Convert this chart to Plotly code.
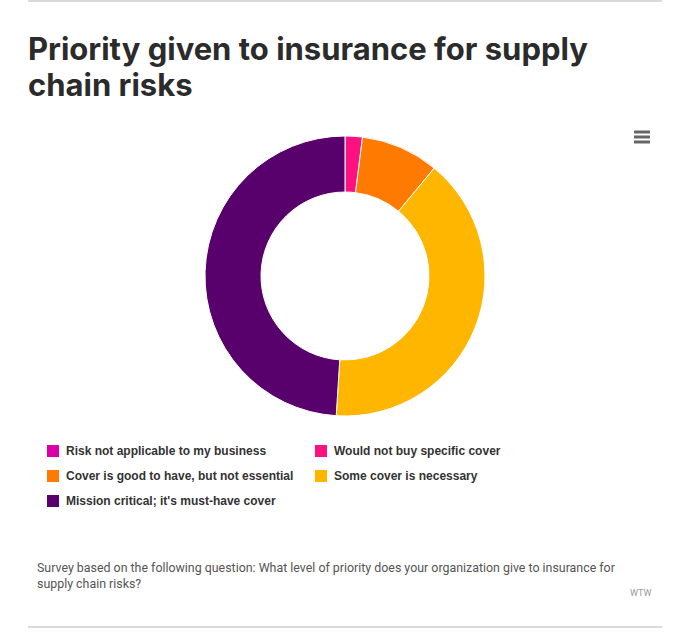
import plotly.graph_objects as go

W, H = 684, 641

labels = [
    "Risk not applicable to my business",
    "Would not buy specific cover",
    "Cover is good to have, but not essential",
    "Some cover is necessary",
    "Mission critical; it's must-have cover",
]
values = [0, 2, 9, 40, 49]
colors = ["#dc00a8", "#ff1080", "#ff7a00", "#ffb600", "#58006c"]

title_lines = ["Priority given to insurance for supply", "chain risks"]
caption_text = ("Survey based on the following question: What level of priority does your organization give to insurance for"
                "<br>supply chain risks?")
credit_text = "WTW"


def px(x):
    return x / W


def py(y):
    return 1 - y / H


fig = go.Figure()
fig.add_trace(go.Pie(
    labels=labels,
    values=values,
    hole=0.6,
    sort=False,
    direction="clockwise",
    rotation=0,
    textinfo="none",
    marker=dict(colors=colors, line=dict(color="#ffffff", width=1)),
    domain=dict(x=[px(205), px(485)], y=[py(416), py(136)]),
    showlegend=False,
    hoverinfo="label+percent",
))

shapes = []
annotations = []

# top and bottom rules
shapes.append(dict(type="line", xref="paper", yref="paper", x0=px(28), x1=px(662), y0=py(1), y1=py(1),
                   line=dict(color="#dcd9de", width=2)))
shapes.append(dict(type="line", xref="paper", yref="paper", x0=px(28), x1=px(662), y0=py(627), y1=py(627),
                   line=dict(color="#dcd9de", width=2)))

# menu icon
for yy in [132, 137, 142]:
    shapes.append(dict(type="line", xref="paper", yref="paper", x0=px(634), x1=px(650), y0=py(yy), y1=py(yy),
                       line=dict(color="#666666", width=3)))

# custom legend
for i, (lab, col) in enumerate(zip(labels, colors)):
    r, c = divmod(i, 2)
    x0 = 47 + c * 268
    y0 = 445 + r * 25
    shapes.append(dict(type="rect", xref="paper", yref="paper", x0=px(x0), x1=px(x0 + 12),
                       y0=py(y0 + 12), y1=py(y0), fillcolor=col, line=dict(width=0)))
    annotations.append(dict(text=lab, xref="paper", yref="paper", x=px(64 + c * 268), y=py(y0 + 6),
                            xanchor="left", yanchor="middle", showarrow=False,
                            font=dict(family="Liberation Sans", size=12, color="#333333", weight="bold")))

# title (two lines)
for j, line in enumerate(title_lines):
    annotations.append(dict(text=line, xref="paper", yref="paper", x=px(26), y=py(48 + j * 37),
                            xanchor="left", yanchor="middle", align="left", showarrow=False,
                            font=dict(family="Inter", size=31, color="#2b2b2b", weight="bold")))
# caption
annotations.append(dict(text=caption_text, xref="paper", yref="paper", x=px(35), y=py(558),
                        xanchor="left", yanchor="top", align="left", showarrow=False,
                        font=dict(family="Roboto", size=12.4, color="#555555")))
annotations.append(dict(text=credit_text, xref="paper", yref="paper", x=px(653), y=py(593),
                        xanchor="right", yanchor="middle", showarrow=False,
                        font=dict(family="Roboto", size=9, color="#999999")))

fig.update_layout(
    width=W, height=H,
    margin=dict(l=0, r=0, t=0, b=0),
    paper_bgcolor="#ffffff",
    plot_bgcolor="#ffffff",
    shapes=shapes,
    annotations=annotations,
    showlegend=False,
)

fig.write_html("out.html", config={"displayModeBar": False},
               post_script="document.body.style.margin='0';document.body.style.overflow='hidden';")
